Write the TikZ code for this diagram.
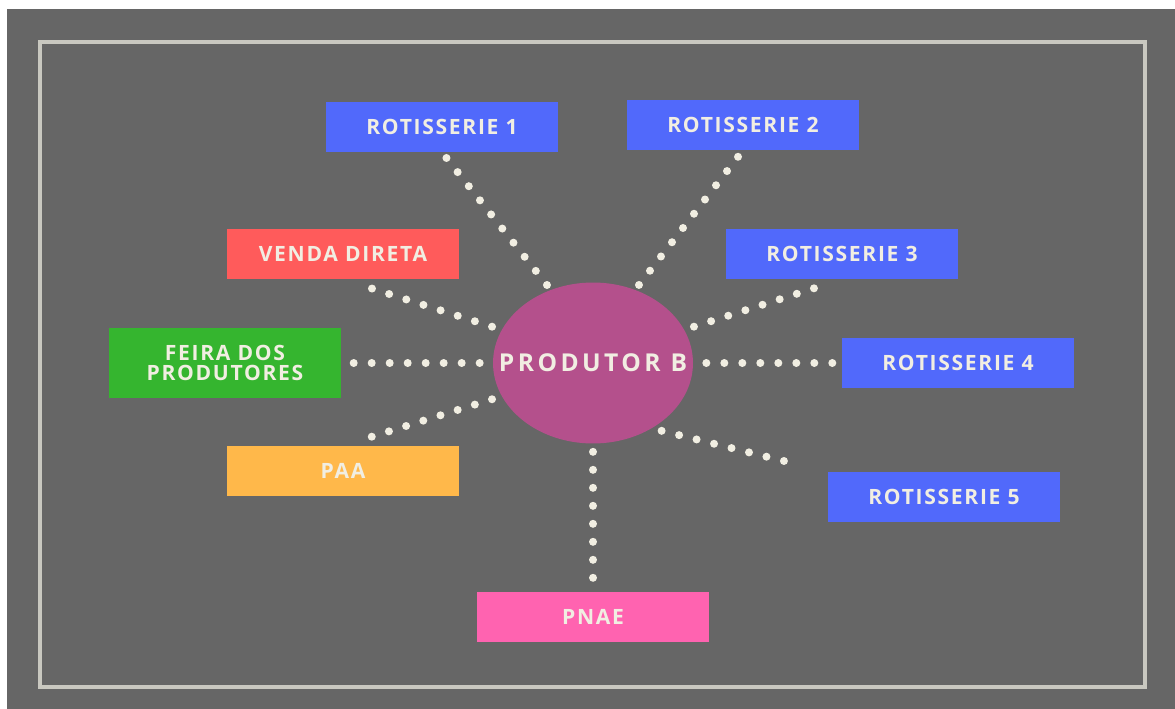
\documentclass[tikz,border=0pt]{standalone}
\usepackage{fontspec}
\setmainfont{Open Sans}
\newfontfamily\boxfont{Open Sans}[LetterSpace=8]
\newfontfamily\bigfont{Open Sans}[LetterSpace=14]
\usetikzlibrary{shapes.geometric}
\definecolor{bgrey}{HTML}{666666}
\definecolor{frame}{HTML}{C9C8C0}
\definecolor{cream}{HTML}{F1EEE2}
\definecolor{rblue}{HTML}{5169FB}
\definecolor{rred}{HTML}{FF5B5B}
\definecolor{rgreen}{HTML}{35B52F}
\definecolor{rorange}{HTML}{FFB84A}
\definecolor{rpink}{HTML}{FF63B0}
\definecolor{rplum}{HTML}{B4508C}
\tikzset{
  box/.style={minimum width=4.66cm,minimum height=1cm,inner sep=0pt,
    text=cream,font=\boxfont\fontsize{12}{11.2}\selectfont\bfseries,align=center},
  dots/.style={cream,line width=0.16cm,line cap=round,
    dash pattern=on 0pt off 0.36cm}
}
\begin{document}
\begin{tikzpicture}[x=0.02cm,y=-0.02cm]
  \useasboundingbox (0,0) rectangle (1175,709);
  \fill[white] (0,0) rectangle (1175,709);
  \fill[bgrey] (7,9) rectangle (1175,709);
  \draw[frame,line width=0.08cm] (40,42) rectangle (1145,687);
  % central producer
  \node[ellipse,fill=rplum,minimum width=4cm,minimum height=3.22cm,inner sep=0pt]
    (pb) at (593,363) {};
  \node[text=cream,font=\bigfont\fontsize{14}{16}\selectfont\bfseries]
    (pbtxt) at (pb) {PRODUTOR B};
  % buyers
  \node[box,fill=rblue] (r1) at (442,127) {ROTISSERIE 1};
  \node[box,fill=rblue] (r2) at (743,125) {ROTISSERIE 2};
  \node[box,fill=rblue] (r3) at (842,254) {ROTISSERIE 3};
  \node[box,fill=rblue] (r4) at (958,363) {ROTISSERIE 4};
  \node[box,fill=rblue] (r5) at (944,497) {ROTISSERIE 5};
  \node[box,fill=rred] (vd) at (343,254) {VENDA DIRETA};
  \node[box,fill=rgreen,minimum height=1.42cm] (fp) at (225,363) {FEIRA DOS\\PRODUTORES};
  \node[box,fill=rorange] (paa) at (343,471) {PAA};
  \node[box,fill=rpink] (pnae) at (593,617) {PNAE};
  % dotted links
  \draw[dots,shorten <=0.12cm,shorten >=0.12cm] (pb.120) -- (r1.south);
  \draw[dots,shorten <=0.12cm,shorten >=0.16cm] (pb.60) -- (r2.south);
  \draw[dots,shorten <=0.2cm,shorten >=0.6cm] (pb.160) -- (vd.south);
  \draw[dots,shorten <=0.2cm,shorten >=0.3cm] (pb.20) -- (r3.south);
  \draw[dots,shorten <=0.26cm,shorten >=0.1cm] (pb.west) -- (fp.east);
  \draw[dots,shorten <=0.26cm,shorten >=0.14cm] (pb.east) -- (r4.west);
  \draw[dots,shorten <=0.2cm,shorten >=0.56cm] (pb.200) -- (paa.north);
  \draw[dots,shorten <=0.2cm,shorten >=0.6cm] (pb.-48) -- (r5.north west);
  \draw[dots,shorten <=0.16cm,shorten >=0.14cm] (pb.south) -- (pnae.north);
\end{tikzpicture}
\end{document}
